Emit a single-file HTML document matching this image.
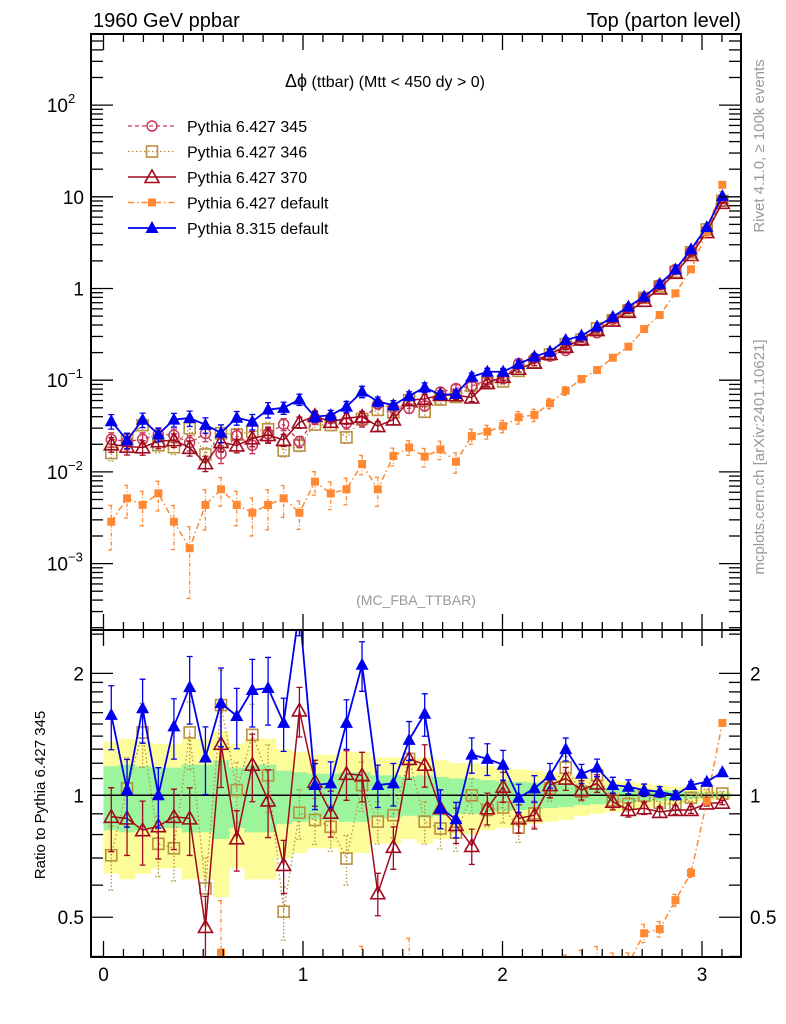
<!DOCTYPE html>
<html><head><meta charset="utf-8"><style>
html,body{margin:0;padding:0;background:#fff;width:786px;height:1024px;overflow:hidden;}
svg{display:block;font-family:"Liberation Sans",sans-serif;}
</style></head><body>
<svg id="chart" width="786" height="1024" viewBox="0 0 786 1024" xmlns="http://www.w3.org/2000/svg">
<defs>
<clipPath id="cm"><rect x="91" y="34" width="650" height="596"/></clipPath>
<clipPath id="cr"><rect x="91" y="630" width="650" height="327"/></clipPath>
</defs>
<text x="93" y="27" font-size="20">1960 GeV ppbar</text>
<text x="741" y="27" font-size="20" text-anchor="end">Top (parton level)</text>
<text x="285" y="87" font-size="16"><tspan font-size="18">Δϕ</tspan> (ttbar) (Mtt &lt; 450 dy &gt; 0)</text>
<text x="416" y="605" font-size="14" fill="#999" text-anchor="middle">(MC_FBA_TTBAR)</text>
<text transform="translate(764,146) rotate(-90)" font-size="15" fill="#999" text-anchor="middle">Rivet 4.1.0, ≥ 100k events</text>
<text transform="translate(764,457) rotate(-90)" font-size="15" fill="#999" text-anchor="middle">mcplots.cern.ch [arXiv:2401.10621]</text>
<text transform="translate(45,795) rotate(-90)" font-size="15" text-anchor="middle">Ratio to Pythia 6.427 345</text>
<g id="bands"></g><g id="series"></g><g id="axes"></g><g id="legend"></g>
</svg>
<script>
// ---- data ----
const binCenters = [0.039,0.118,0.196,0.275,0.353,0.432,0.511,0.589,0.668,0.746,0.825,0.903,0.982,1.060,1.139,1.218,1.296,1.375,1.453,1.532,1.610,1.689,1.767,1.846,1.924,2.003,2.081,2.160,2.238,2.317,2.396,2.474,2.553,2.631,2.710,2.788,2.867,2.945,3.024,3.102];
const ref345 = [0.0226,0.0215,0.0226,0.0257,0.0251,0.0209,0.0263,0.0158,0.0248,0.0195,0.0260,0.0331,0.0214,0.0378,0.0388,0.0341,0.0357,0.0551,0.0500,0.0492,0.0525,0.0743,0.0811,0.0865,0.1005,0.1038,0.152,0.174,0.183,0.211,0.271,0.329,0.463,0.605,0.791,1.10,1.61,2.52,4.32,8.95];
const ratio346 = [0.711,1.04,1.43,0.759,0.740,1.43,0.589,1.67,1.03,1.41,1.12,0.516,0.906,0.869,0.836,0.698,1.06,0.861,0.893,1.23,0.861,0.828,0.809,1.00,0.920,0.933,0.832,0.902,1.04,1.17,1.02,1.12,0.973,0.951,0.998,0.959,0.946,0.986,1.02,1.01];
const ratio370 = [0.885,0.877,0.820,0.839,0.885,0.877,0.473,1.34,0.783,1.19,0.971,0.673,1.62,1.08,0.906,1.13,1.12,0.573,0.746,1.23,1.19,0.929,0.845,0.750,0.929,1.05,0.877,0.893,1.06,1.10,1.03,1.07,0.964,0.920,0.929,0.910,0.920,0.920,0.955,0.959];
const ratio8 = [1.58,1.03,1.64,1.00,1.48,1.85,1.24,1.69,1.57,1.82,1.84,1.51,2.88,1.06,1.07,1.51,2.10,1.06,1.07,1.37,1.59,0.929,0.873,1.26,1.23,1.19,0.986,1.04,1.12,1.30,1.13,1.17,1.06,1.05,1.03,1.02,1.00,1.06,1.08,1.14];
const def6 = [0.00286,0.00515,0.00436,0.00583,0.00286,0.00147,0.00436,0.00646,0.00436,0.00359,0.00436,0.00515,0.00359,0.00782,0.00583,0.00646,0.0122,0.00646,0.0149,0.0185,0.0147,0.0176,0.0129,0.0246,0.0275,0.0316,0.0394,0.0418,0.0560,0.0769,0.103,0.129,0.176,0.232,0.361,0.514,0.887,1.62,4.17,13.5];
const relErr = [0.18,0.19,0.18,0.17,0.17,0.19,0.19,0.22,0.17,0.19,0.19,0.15,0.14,0.13,0.13,0.14,0.14,0.12,0.12,0.11,0.12,0.11,0.10,0.10,0.09,0.085,0.08,0.075,0.07,0.065,0.055,0.05,0.045,0.04,0.035,0.03,0.025,0.02,0.015,0.012];
const xTickLabels = ["0","1","2","3"];
const halfBin = 0.03927;

// ---- axes functions ----
const X0=91,X1=741,YT=34,YM=630,YB=957;
const xs = v => 103.5 + 199.5*v;
const ym = v => 288.5 - 91.7*Math.log10(v);
const yr = r => 795.3 - 405*Math.log10(r);
const NS="http://www.w3.org/2000/svg";
function mk(tag, attrs, parent){const e=document.createElementNS(NS,tag);for(const k in attrs)e.setAttribute(k,attrs[k]);parent.appendChild(e);return e;}

const bands=document.getElementById('bands');
const ser=document.getElementById('series');
const axes=document.getElementById('axes');
const leg=document.getElementById('legend');

// ---- ratio bands ----
const bandsG = mk('g',{'clip-path':'url(#cr)'},bands);
binCenters.forEach((c,i)=>{
  const e=relErr[i];
  const a=xs(c-halfBin), b=xs(c+halfBin);
  const y1=mk('rect',{x:a,y:yr(1+2*e),width:b-a+0.5,height:yr(1-2*e)-yr(1+2*e),fill:'#fdfc9b'},bandsG);
  
  
});
binCenters.forEach((c,i)=>{
  const e=relErr[i];
  const a=xs(c-halfBin), b=xs(c+halfBin);
  const g1=mk('rect',{x:a,y:yr(1+e),width:b-a+0.5,height:yr(1-e)-yr(1+e),fill:'#9cf59c'},bandsG);
  
  
});
const unity=mk('line',{x1:X0,x2:X1,y1:yr(1),y2:yr(1),stroke:'#000','stroke-width':1.5},bands);



// ---- series ----
const defRatio = def6.map((v,i)=>v/ref345[i]);
const defErr = relErr.map((e,i)=>Math.min(0.95, e*Math.sqrt(ref345[i]/def6[i])));
const seriesList = [
  {name:'pythia-6427-346', color:'#b8903e', dash:'1.5,2.5', mk:'osq', main:ratio346.map((r,i)=>r*ref345[i]), ratio:ratio346, err:relErr, w:1.3},
  {name:'pythia-6427-345', color:'#c8385a', dash:'4,3', mk:'oci', main:ref345, ratio:ref345.map(()=>1), err:relErr, w:1.3, noRatio:true},
  {name:'pythia-6427-370', color:'#a00a1e', dash:'', mk:'otr', main:ratio370.map((r,i)=>r*ref345[i]), ratio:ratio370, err:relErr, w:1.5},
  {name:'pythia-6427-default', color:'#ff8833', dash:'6,3,1.5,3', mk:'fsq', main:def6, ratio:defRatio, err:defErr, w:1.5},
  {name:'pythia-8315-default', color:'#0000ee', dash:'', mk:'ftr', main:ratio8.map((r,i)=>r*ref345[i]), ratio:ratio8, err:relErr, w:1.8}
];
function marker(type,x,y,color,parent){
  let m;
  if(type==='oci') m=mk('circle',{cx:x,cy:y,r:5,fill:'#fff','fill-opacity':0,stroke:color,'stroke-width':1.5},parent);
  else if(type==='osq') m=mk('rect',{x:x-5.5,y:y-5.5,width:11,height:11,fill:'none',stroke:color,'stroke-width':1.6},parent);
  else if(type==='otr') m=mk('path',{d:`M${x},${y-7}L${x+7},${y+5.5}L${x-7},${y+5.5}Z`,fill:'none',stroke:color,'stroke-width':1.6},parent);
  else if(type==='fsq') m=mk('rect',{x:x-4,y:y-4,width:8,height:8,fill:color},parent);
  else m=mk('path',{d:`M${x},${y-7}L${x+6.5},${y+5}L${x-6.5},${y+5}Z`,fill:color},parent);
  return m;
}
function drawPanel(s, vals, yf, clip, panel){
  const g=mk('g',{'clip-path':clip},ser);
  
  
  const pts=vals.map((v,i)=>[xs(binCenters[i]),yf(v)]);
  const pl=mk('polyline',{points:pts.map(p=>p.join(',')).join(' '),fill:'none',stroke:s.color,'stroke-width':s.w,'stroke-dasharray':s.dash},g);
  
  
  vals.forEach((v,i)=>{
    const x=pts[i][0], e=s.err[i];
    const lo=Math.max(v*(1-e), v*0.02), hi=v*(1+e);
    const ya=yf(hi), yb=yf(lo);
    const eb=mk('path',{d:`M${x},${ya}V${yb}M${x-3},${ya}H${x+3}M${x-3},${yb}H${x+3}`,stroke:s.color,'stroke-width':1.3,fill:'none','stroke-dasharray':s.mk==='osq'?'1.5,2':(s.mk==='fsq'?'4,2,1,2':'')},g);
    
    
  });
  vals.forEach((v,i)=>{
    const m=marker(s.mk,pts[i][0],pts[i][1],s.color,g);
    
    
  });
}
seriesList.forEach(s=>{
  drawPanel(s, s.main, ym, 'url(#cm)', 'main');
  if(!s.noRatio) drawPanel(s, s.ratio, yr, 'url(#cr)', 'ratio');
});

// ---- axes ----
function ln(x1,y1,x2,y2,w,name){const l=mk('line',{x1,y1,x2,y2,stroke:'#000','stroke-width':w||1.3},axes);return l;}
const fm=mk('rect',{x:X0,y:YT,width:X1-X0,height:YM-YT,fill:'none',stroke:'#000','stroke-width':2},axes);


const fr=mk('rect',{x:X0,y:YM,width:X1-X0,height:YB-YM,fill:'none',stroke:'#000','stroke-width':2},axes);


for(let k=0;k<=31;k++){
  const v=k/10; const x=xs(v); if(x>X1) break;
  const major=(k%10===0); const L=major?16:8;
  [[YT,1],[YM,-1],[YM,1],[YB,-1]].forEach(([y,d])=>ln(x,y,x,y+d*L,1.3,'x-tick'));
}
xTickLabels.forEach((t,i)=>{
  const tx=mk('text',{x:xs(i),y:981,'font-size':19,'text-anchor':'middle'},axes);
  tx.textContent=t;
  
  
});
for(let d=-4; d<=2; d++){
  for(let m=1;m<=9;m++){
    const v=m*Math.pow(10,d); const y=ym(v);
    if(y<YT||y>YM) continue;
    const L=(m===1)?22:12;
    ln(X0,y,X0+L,y,1.3,'main-y-tick'); ln(X1,y,X1-L,y,1.3,'main-y-tick');
  }
}
const mainLabels=[[100,'10','2'],[10,'10',''],[1,'1',''],[0.1,'10','−1'],[0.01,'10','−2'],[0.001,'10','−3']];
mainLabels.forEach(([v,b,sup])=>{
  const t=mk('text',{x:sup?68:84,y:ym(v)+7,'font-size':19,'text-anchor':'end'},axes);
  t.textContent=b;
  
  
  if(sup){const s=mk('text',{x:68,y:ym(v)-2,'font-size':13},axes);s.textContent=sup;
    
    }
});
const rTicks=[0.4,0.5,0.6,0.7,0.8,0.9,1,1.1,1.2,1.3,1.4,1.5,1.6,1.7,1.8,1.9,2,2.5];
rTicks.forEach(r=>{
  const y=yr(r); if(y<YM||y>YB) return;
  const L=(r===0.5||r===1||r===2)?22:12;
  ln(X0,y,X0+L,y,1.3,'ratio-y-tick'); ln(X1,y,X1-L,y,1.3,'ratio-y-tick');
});
[[2,'2'],[1,'1'],[0.5,'0.5']].forEach(([r,t])=>{
  const a=mk('text',{x:84,y:yr(r)+7,'font-size':19,'text-anchor':'end'},axes);a.textContent=t;
  
  
  const b=mk('text',{x:750,y:yr(r)+7,'font-size':19},axes);b.textContent=t;
  
  
});
// ---- legend ----
const legendNames=['Pythia 6.427 345','Pythia 6.427 346','Pythia 6.427 370','Pythia 6.427 default','Pythia 8.315 default'];
const legendOrder=[1,0,2,3,4];
legendNames.forEach((n,i)=>{
  const s=seriesList[legendOrder[i]]; const y=126+i*25.5;
  const g=mk('g',{},leg);
  
  
  mk('line',{x1:128,x2:176,y1:y,y2:y,stroke:s.color,'stroke-width':s.w,'stroke-dasharray':s.dash},g);
  marker(s.mk,152,y,s.color,g);
  const t=mk('text',{x:187,y:y+6,'font-size':16},g);t.textContent=n;
});
</script>
</body></html>
